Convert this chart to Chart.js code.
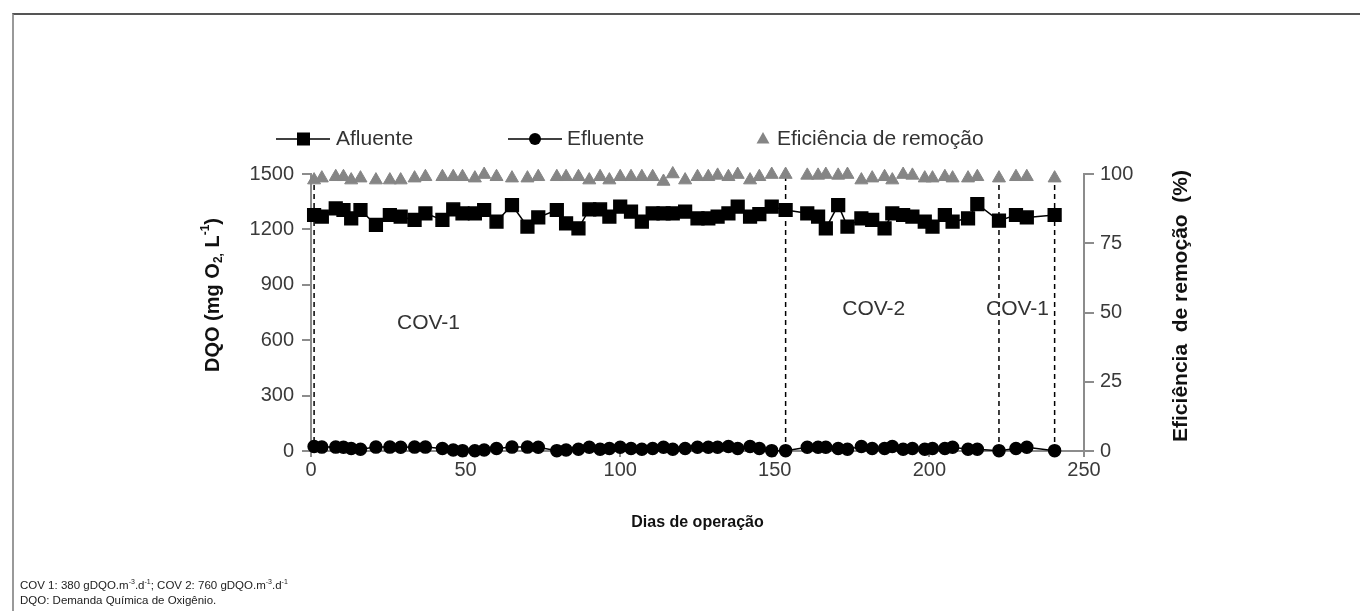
<!DOCTYPE html>
<html>
<head>
<meta charset="utf-8">
<script src="https://cdn.jsdelivr.net/npm/chart.js@4.4.0/dist/chart.umd.min.js"></script>
<style>
  body { margin: 0; background: #fff; }
  #wrap { position: relative; width: 1360px; height: 611px; overflow: hidden; }
  #frame { position: absolute; left: 12px; top: 13px; width: 1400px; height: 700px; border-top: 2px solid #555; border-left: 2px solid #999; }
  #grafico { position: absolute; left: 0; top: 0; }
  #notas { position: absolute; left: 20px; top: 578px; font: 11.5px "Liberation Sans", Arial, sans-serif; color: #222; line-height: 15px; }
  #notas sup { font-size: 7px; vertical-align: 5px; line-height: 0; }
</style>
</head>
<body>
<div id="wrap">
  <div id="frame"></div>
  <canvas id="grafico" width="1360" height="611"></canvas>
  <div id="notas">COV 1: 380 gDQO.m<sup>-3</sup>.d<sup>-1</sup>; COV 2: 760 gDQO.m<sup>-3</sup>.d<sup>-1</sup><br>DQO: Demanda Química de Oxigênio.</div>
</div>
<script>
// dias de operação (eixo x)
const dias = [1, 3.5, 8, 10.5, 13, 16, 21, 25.5, 29, 33.5, 37, 42.5, 46, 49, 53, 56, 60, 65, 70, 73.5,
  79.5, 82.5, 86.5, 90, 93.5, 96.5, 100, 103.5, 107, 110.5, 114, 117, 121, 125, 128.5, 131.5, 135, 138, 142, 145,
  149, 153.5, 160.5, 164, 166.5, 170.5, 173.5, 178, 181.5, 185.5, 188, 191.5, 194.5, 198.5, 201, 205, 207.5, 212.5, 215.5, 222.5,
  228, 231.5, 240.5];

// DQO afluente (mg O2/L)
const afluente = [1278, 1269, 1314, 1305, 1260, 1305, 1224, 1278, 1269, 1251, 1287, 1251, 1308, 1287, 1287, 1305, 1242, 1332, 1215, 1265,
  1305, 1233, 1206, 1308, 1308, 1269, 1323, 1296, 1242, 1287, 1287, 1287, 1296, 1260, 1260, 1269, 1287, 1323, 1269, 1283,
  1323, 1305, 1287, 1269, 1206, 1332, 1215, 1260, 1251, 1206, 1287, 1278, 1269, 1242, 1215, 1278, 1242, 1260, 1337, 1247,
  1278, 1265, 1278];

// DQO efluente (mg O2/L)
const efluente = [24, 21, 21, 20, 14, 9, 21, 21, 20, 21, 21, 14, 5, 2, 1, 5, 14, 21, 21, 20,
  2, 5, 9, 20, 9, 14, 20, 14, 9, 14, 20, 9, 14, 20, 20, 20, 24, 14, 24, 14,
  2, 2, 20, 20, 20, 14, 9, 24, 14, 14, 24, 9, 14, 9, 14, 14, 20, 9, 9, 2,
  14, 20, 2];

// eficiência de remoção (%)
const eficiencia = [97.8, 98.5, 99, 99, 97.8, 98.5, 97.8, 97.8, 97.8, 98.5, 99, 99, 99, 99, 98.5, 99.8, 99, 98.5, 98.5, 99,
  99, 99, 99, 97.8, 99, 97.8, 99, 99, 99, 99, 97.3, 100, 97.8, 99, 99, 99.5, 99, 99.8, 97.8, 99,
  99.8, 99.8, 99.5, 99.5, 99.8, 99.5, 99.8, 97.8, 98.5, 99, 97.8, 99.8, 99.5, 98.5, 98.5, 99, 98.5, 98.5, 99, 98.5,
  99, 99, 98.5];

// mudanças de fase (linhas tracejadas)
const divisores = [1, 153.5, 222.5, 240.5];

// rótulos das fases
const fasesTexto = ['COV-1', 'COV-2', 'COV-1'];
const fasesDia = [38, 182, 228.5];
const fasesValor = [690, 770, 770];

const fonte = '"Liberation Sans", Arial, sans-serif';
const cinzaEixo = '#8c8c8c';

const pontos = (ys) => dias.map((d, i) => ({ x: d, y: ys[i] }));

const datasets = [
  {
    label: 'Afluente', data: pontos(afluente), yAxisID: 'y',
    borderColor: '#000', backgroundColor: '#000', borderWidth: 1.5,
    pointStyle: 'rect', pointRadius: 9, pointHoverRadius: 9, order: 1, clip: false
  },
  {
    label: 'Efluente', data: pontos(efluente), yAxisID: 'y',
    borderColor: '#000', backgroundColor: '#000', borderWidth: 1.5,
    pointStyle: 'circle', pointRadius: 6, pointHoverRadius: 6, order: 1, clip: false
  },
  {
    label: 'Eficiência de remoção', data: pontos(eficiencia), yAxisID: 'y1',
    showLine: false, borderColor: '#858585', backgroundColor: '#858585',
    pointStyle: 'triangle', pointRadius: 7.5, pointHoverRadius: 7.5, order: 0, clip: false
  }
];

divisores.forEach(d => {
  datasets.push({
    data: [{ x: d, y: 0 }, { x: d, y: 1500 }], yAxisID: 'y',
    borderColor: '#000', borderWidth: 1.5, borderDash: [5, 4],
    pointRadius: 0, order: 5, clip: false
  });
});

// escreve texto com partes sub/sobrescritas, centrado em (0,0)
function textoComposto(ctx, partes, tam) {
  let total = 0;
  partes.forEach(p => {
    ctx.font = 'bold ' + (p.s ? tam * 0.6 : tam) + 'px ' + fonte;
    total += ctx.measureText(p.t).width;
  });
  let pos = -total / 2;
  ctx.textAlign = 'left';
  partes.forEach(p => {
    ctx.font = 'bold ' + (p.s ? tam * 0.6 : tam) + 'px ' + fonte;
    const dy = p.s === 'sub' ? tam * 0.3 : p.s === 'sup' ? -tam * 0.35 : 0;
    ctx.fillText(p.t, pos, dy);
    pos += ctx.measureText(p.t).width;
  });
}

// textos extras: legenda, títulos dos eixos, rótulos das fases
const textos = {
  id: 'textos',
  afterDraw(chart) {
    const ctx = chart.ctx;
    const x = chart.scales.x, y = chart.scales.y;
    ctx.save();

    ctx.font = '21px ' + fonte;
    ctx.fillStyle = '#333';
    ctx.textAlign = 'center';
    ctx.textBaseline = 'middle';
    fasesTexto.forEach((t, i) => {
      ctx.fillText(t, x.getPixelForValue(fasesDia[i]), y.getPixelForValue(fasesValor[i]));
    });

    // legenda
    const ly = 139;
    ctx.strokeStyle = '#000';
    ctx.lineWidth = 1.5;
    ctx.beginPath(); ctx.moveTo(276, ly); ctx.lineTo(330, ly); ctx.stroke();
    ctx.fillStyle = '#000';
    ctx.fillRect(297, ly - 6.5, 13, 13);
    ctx.beginPath(); ctx.moveTo(508, ly); ctx.lineTo(562, ly); ctx.stroke();
    ctx.beginPath(); ctx.arc(535, ly, 6, 0, Math.PI * 2); ctx.fill();
    ctx.fillStyle = '#858585';
    ctx.beginPath(); ctx.moveTo(763, ly - 7); ctx.lineTo(769.5, ly + 4.5); ctx.lineTo(756.5, ly + 4.5); ctx.closePath(); ctx.fill();
    ctx.fillStyle = '#333';
    ctx.textAlign = 'left';
    ctx.fillText('Afluente', 336, ly);
    ctx.fillText('Efluente', 567, ly);
    ctx.fillText('Eficiência de remoção', 777, ly);

    // títulos dos eixos
    ctx.font = 'bold 16px ' + fonte;
    ctx.fillStyle = '#111';
    ctx.textAlign = 'center';
    ctx.fillText('Dias de operação', (x.left + x.right) / 2, 523);

    ctx.save();
    ctx.translate(213, 295);
    ctx.rotate(-Math.PI / 2);
    textoComposto(ctx, [
      { t: 'DQO (mg O' }, { t: '2,', s: 'sub' }, { t: ' L' }, { t: '-1', s: 'sup' }, { t: ')' }
    ], 20);
    ctx.restore();

    ctx.font = 'bold 21px ' + fonte;
    ctx.textAlign = 'center';
    ctx.translate(1181, 306);
    ctx.rotate(-Math.PI / 2);
    ctx.fillText('Eficiência  de remoção  (%)', 0, 0);
    ctx.restore();
  }
};

const eixoTicks = { color: '#3a3a3a', font: { family: fonte, size: 20 }, callback: v => String(v) };

new Chart(document.getElementById('grafico'), {
  type: 'line',
  data: { datasets: datasets },
  options: {
    responsive: false,
    animation: false,
    layout: { padding: { top: 174, left: 0, right: 0, bottom: 0 } },
    plugins: { legend: { display: false }, tooltip: { enabled: false } },
    scales: {
      x: {
        type: 'linear', min: 0, max: 250,
        ticks: Object.assign({ stepSize: 50, padding: 1, maxRotation: 0 }, eixoTicks),
        grid: { drawOnChartArea: false, tickLength: 6, color: cinzaEixo, lineWidth: 2 },
        border: { color: cinzaEixo, width: 2 },
        afterFit(s) { s.height = 160; }
      },
      y: {
        position: 'left', min: 0, max: 1500,
        ticks: Object.assign({ stepSize: 300, padding: 8 }, eixoTicks),
        grid: { drawOnChartArea: false, tickLength: 9, color: cinzaEixo, lineWidth: 2 },
        border: { color: cinzaEixo, width: 2 },
        afterFit(s) { s.width = 311; }
      },
      y1: {
        position: 'right', min: 0, max: 100,
        ticks: Object.assign({ stepSize: 25, padding: 6 }, eixoTicks),
        grid: { drawOnChartArea: false, tickLength: 10, color: cinzaEixo, lineWidth: 2 },
        border: { color: cinzaEixo, width: 2 },
        afterFit(s) { s.width = 276; }
      }
    }
  },
  plugins: [textos]
});
</script>
</body>
</html>
